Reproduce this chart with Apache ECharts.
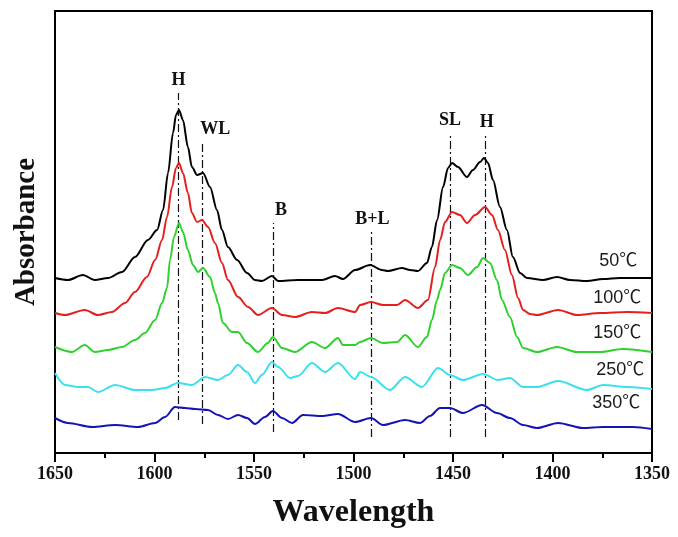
<!DOCTYPE html>
<html>
<head>
<meta charset="utf-8">
<script src="https://cdn.jsdelivr.net/npm/echarts@6/dist/echarts.min.js"></script>
<style>
  html, body { margin: 0; padding: 0; background: #fff; }
  #chart { width: 678px; height: 537px; }
</style>
</head>
<body>
<div id="chart"></div>
<script>
// IR spectra of adsorbed species after desorption at different temperatures
// each trace: [wavenumber (cm-1), absorbance, stacked with a vertical offset]
const trace50 = [
  [1650, 1.75], [1643.5, 1.73], [1636, 1.78], [1630, 1.73], [1623.4, 1.75], [1616.3, 1.81],
  [1609.8, 1.96], [1603.3, 2.13], [1598.7, 2.23], [1595.7, 2.43], [1593.2, 2.80], [1590.7, 3.20],
  [1589.2, 3.38], [1587.7, 3.43], [1585.7, 3.33], [1583.2, 3.06], [1581.2, 2.86], [1578.6, 2.78],
  [1575.6, 2.80], [1572.1, 2.66], [1568.6, 2.43], [1566.1, 2.23], [1563.1, 2.06], [1558.5, 1.93],
  [1553.5, 1.80], [1549.5, 1.73], [1546, 1.72], [1541, 1.77], [1537.9, 1.72], [1527.9, 1.73],
  [1515.8, 1.73], [1509.3, 1.77], [1505.3, 1.74], [1499.2, 1.83], [1491.7, 1.88], [1485.7, 1.83],
  [1482.7, 1.82], [1475.6, 1.85], [1471.6, 1.83], [1467.6, 1.82], [1463.1, 1.90], [1460.6, 2.06],
  [1458, 2.33], [1455, 2.66], [1452.5, 2.85], [1450.5, 2.90], [1447.5, 2.86], [1443, 2.76],
  [1440, 2.83], [1436.4, 2.91], [1434.4, 2.95], [1432.4, 2.90], [1429.9, 2.73], [1426.4, 2.46],
  [1422.9, 2.23], [1419.9, 1.96], [1416.3, 1.80], [1412.8, 1.75], [1404.8, 1.73], [1397.7, 1.76],
  [1391.2, 1.73], [1382.7, 1.72], [1374.6, 1.74], [1366.1, 1.75], [1350, 1.75]
];
const trace100 = [
  [1650, 1.40], [1645, 1.38], [1635, 1.43], [1628.4, 1.38], [1621.4, 1.41], [1614.8, 1.50],
  [1609.8, 1.61], [1603.8, 1.76], [1599.7, 1.93], [1596.2, 2.13], [1593.7, 2.36], [1591.2, 2.66],
  [1589.2, 2.85], [1587.7, 2.90], [1585.7, 2.80], [1583.2, 2.60], [1581.2, 2.40], [1578.6, 2.31],
  [1576.1, 2.33], [1573.1, 2.26], [1569.6, 2.10], [1566.1, 1.90], [1563.1, 1.73], [1558, 1.56],
  [1553, 1.46], [1548, 1.38], [1541, 1.45], [1535.9, 1.38], [1529.4, 1.36], [1520.9, 1.41],
  [1514.3, 1.40], [1507.8, 1.45], [1499.2, 1.41], [1496.7, 1.48], [1491.2, 1.51], [1485.2, 1.48],
  [1478.1, 1.48], [1474.1, 1.53], [1467.6, 1.45], [1462.6, 1.53], [1459, 1.86], [1456.5, 2.13],
  [1454, 2.31], [1450.5, 2.41], [1446.5, 2.38], [1443, 2.30], [1438.9, 2.38], [1433.9, 2.46],
  [1430.4, 2.38], [1427.4, 2.23], [1423.9, 2.03], [1420.4, 1.78], [1417.3, 1.55], [1414.8, 1.43],
  [1411.3, 1.39], [1407.8, 1.38], [1397.2, 1.43], [1387.7, 1.38], [1376.1, 1.40], [1362.6, 1.41],
  [1350, 1.40]
];
const trace150 = [
  [1650, 1.06], [1641.5, 1.01], [1635, 1.08], [1630, 1.01], [1623.4, 1.03], [1616.3, 1.06],
  [1609.8, 1.13], [1604.8, 1.20], [1599.7, 1.33], [1596.2, 1.50], [1593.7, 1.65], [1592.2, 1.93],
  [1590.2, 2.16], [1587.7, 2.30], [1585.7, 2.21], [1583.2, 2.03], [1580.7, 1.88], [1578.1, 1.81],
  [1575.6, 1.85], [1572.1, 1.76], [1569.6, 1.60], [1568.1, 1.50], [1565.6, 1.30], [1561.1, 1.21],
  [1558, 1.21], [1553.5, 1.10], [1548, 1.01], [1543, 1.10], [1540.5, 1.16], [1535.9, 1.05],
  [1529.4, 1.01], [1520.9, 1.11], [1514.3, 1.05], [1507.8, 1.15], [1505.3, 1.08], [1499.2, 1.08],
  [1496.7, 1.11], [1491.2, 1.15], [1485.2, 1.10], [1478.1, 1.11], [1474.1, 1.18], [1467.6, 1.06],
  [1463.1, 1.16], [1460.6, 1.33], [1458, 1.53], [1456.5, 1.63], [1454, 1.80], [1450.5, 1.88],
  [1446.5, 1.85], [1442.5, 1.78], [1437.9, 1.86], [1434.9, 1.95], [1431.4, 1.90], [1427.9, 1.73],
  [1425.4, 1.53], [1421.4, 1.36], [1417.8, 1.16], [1414.8, 1.05], [1407.8, 1.01], [1397.7, 1.06],
  [1387.7, 1.01], [1376.1, 1.01], [1364.6, 1.04], [1350, 1.01]
];
const trace250 = [
  [1650, 0.80], [1645, 0.68], [1638.4, 0.66], [1633.4, 0.66], [1628.4, 0.61], [1619.8, 0.68],
  [1609.8, 0.63], [1601.3, 0.63], [1594.7, 0.65], [1588.2, 0.70], [1581.2, 0.68], [1574.6, 0.76],
  [1568.1, 0.73], [1563.1, 0.78], [1558, 0.88], [1553.5, 0.81], [1549.5, 0.70], [1546, 0.78],
  [1541, 0.91], [1537.9, 0.86], [1531.9, 0.75], [1527.9, 0.77], [1520.9, 0.90], [1514.3, 0.81],
  [1507.8, 0.90], [1499.2, 0.74], [1496.7, 0.81], [1491.2, 0.76], [1481.7, 0.63], [1474.1, 0.76],
  [1465.6, 0.66], [1457.5, 0.85], [1451.5, 0.78], [1445, 0.73], [1434.9, 0.79], [1427.4, 0.73],
  [1421.4, 0.75], [1414.8, 0.66], [1407.8, 0.66], [1397.2, 0.72], [1382.7, 0.63], [1374.6, 0.68],
  [1362.6, 0.66], [1350, 0.64]
];
const trace350 = [
  [1650, 0.35], [1643.5, 0.30], [1631.4, 0.26], [1619.8, 0.28], [1608.3, 0.26], [1599.7, 0.30],
  [1594.7, 0.36], [1589.7, 0.46], [1584.7, 0.45], [1579.6, 0.44], [1573.1, 0.43], [1568.1, 0.38],
  [1563.1, 0.34], [1558, 0.38], [1553.5, 0.35], [1549.5, 0.29], [1544.5, 0.36], [1540.5, 0.42],
  [1535.9, 0.35], [1530.9, 0.30], [1525.4, 0.38], [1515.8, 0.37], [1507.8, 0.39], [1499.2, 0.31],
  [1491.2, 0.35], [1485.2, 0.28], [1474.1, 0.33], [1466.6, 0.30], [1461.6, 0.37], [1456.5, 0.45],
  [1451.5, 0.45], [1445, 0.40], [1435.4, 0.48], [1427.9, 0.40], [1421.4, 0.35], [1414.8, 0.28],
  [1407.8, 0.25], [1397.2, 0.30], [1384.7, 0.25], [1374.6, 0.26], [1359.6, 0.26], [1350, 0.24]
];

const temperatures = ['50℃', '100℃', '150℃', '250℃', '350℃'];
const traceColors = ['#000000', '#e3201e', '#2ed12e', '#3ae0ee', '#1414b4'];
// where each temperature tag sits: [wavenumber, absorbance]
const tempTagAt = [[1367, 1.92], [1367.5, 1.55], [1367.5, 1.20], [1366, 0.83], [1368, 0.50]];

// band assignments and the vertical guide lines marking them
const bandNames = ['H', 'WL', 'B', 'B+L', 'SL', 'H'];
const bandCenters = [1588, 1576, 1540.5, 1491, 1451.5, 1434];
const bandTop = [3.60, 3.11, 2.30, 2.21, 3.20, 3.18];
const bandBottom = [0.33, 0.29, 0.21, 0.16, 0.16, 0.16];
const bandLabelShift = [[0, 0], [13, 0], [8, 0], [1, 0], [0, 0], [2, 0]];

const xTicks = [1650, 1600, 1550, 1500, 1450, 1400, 1350];

const traces = [trace50, trace100, trace150, trace250, trace350];
const serif = "'Liberation Serif', 'Times New Roman', serif";

const guideLines = bandCenters.map((c, i) => ([
  { coord: [c, bandBottom[i]] },
  {
    coord: [c, bandTop[i]],
    label: {
      show: true, position: 'end', distance: 4,
      formatter: bandNames[i], offset: bandLabelShift[i],
      fontFamily: serif, fontWeight: 'bold', fontSize: 18, color: '#111'
    }
  }
]));

const series = traces.map((data, i) => ({
  name: temperatures[i],
  type: 'line',
  data: data,
  showSymbol: false,
  smooth: 0.3,
  smoothMonotone: 'x',
  lineStyle: { color: traceColors[i], width: 2 },
  itemStyle: { color: traceColors[i] },
  z: 3,
  markPoint: {
    silent: true,
    symbol: 'circle', symbolSize: 0,
    label: {
      show: true, position: 'inside',
      formatter: temperatures[i],
      fontFamily: "'Liberation Sans', 'Noto Sans CJK SC', sans-serif",
      fontSize: 18, color: '#1a1a1a'
    },
    data: [{ coord: tempTagAt[i] }]
  }
}));

series[0].markLine = {
  silent: true,
  symbol: ['none', 'none'],
  lineStyle: { color: '#111', width: 1.2, type: [8, 3, 2, 3] },
  label: { show: false },
  data: guideLines,
  z: 2
};

const chart = echarts.init(document.getElementById('chart'), null, { renderer: 'canvas' });
chart.setOption({
  animation: false,
  backgroundColor: '#ffffff',
  grid: { left: 55, right: 26, top: 11, bottom: 84 },
  xAxis: [{
    type: 'value', inverse: true, min: 1350, max: 1650, interval: 50,
    name: 'Wavelength', nameLocation: 'middle', nameGap: 44,
    nameTextStyle: { fontFamily: serif, fontWeight: 'bold', fontSize: 32, color: '#111' },
    axisLine: { show: true, lineStyle: { color: '#000', width: 2 } },
    axisTick: { show: true, inside: false, length: 9, lineStyle: { color: '#000', width: 2 } },
    minorTick: { show: true, splitNumber: 2, length: 5, lineStyle: { color: '#000', width: 2 } },
    axisLabel: {
      margin: 12, fontFamily: serif, fontWeight: 'bold', fontSize: 18, color: '#111',
      customValues: xTicks,
      formatter: (v) => String(v)
    },
    splitLine: { show: false }
  }, {
    type: 'value', inverse: true, min: 1350, max: 1650, position: 'top',
    axisLine: { show: true, onZero: false, lineStyle: { color: '#000', width: 2 } },
    axisTick: { show: false }, axisLabel: { show: false }, splitLine: { show: false }
  }],
  yAxis: [{
    type: 'value', min: 0, max: 4.42,
    name: 'Absorbance', nameLocation: 'middle', nameGap: 14,
    nameTextStyle: { fontFamily: serif, fontWeight: 'bold', fontSize: 29, color: '#111' },
    axisLine: { show: true, onZero: false, lineStyle: { color: '#000', width: 2 } },
    axisTick: { show: false }, axisLabel: { show: false }, splitLine: { show: false }
  }, {
    type: 'value', min: 0, max: 4.42, position: 'right',
    axisLine: { show: true, onZero: false, lineStyle: { color: '#000', width: 2 } },
    axisTick: { show: false }, axisLabel: { show: false }, splitLine: { show: false }
  }],
  series: series
});
</script>
</body>
</html>
